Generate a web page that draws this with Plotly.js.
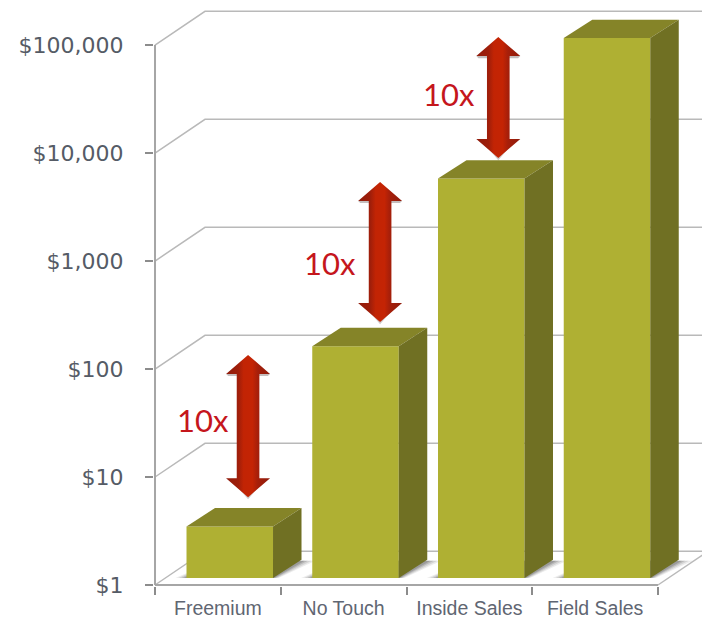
<!DOCTYPE html>
<html>
<head>
<meta charset="utf-8">
<script src="https://cdn.plot.ly/plotly-3.0.1.min.js"></script>
<style>html,body{margin:0;padding:0;background:#fff}</style>
</head>
<body>
<div id="chart" style="width:702px;height:621px"></div>
<script>
// Cost of customer acquisition by sales channel, on a log scale
const categories = ['Freemium', 'No Touch', 'Inside Sales', 'Field Sales'];
const dealValues = [3, 140, 5000, 100000];
const tickValues = [1, 10, 100, 1000, 10000, 100000];
const tickLabels = ['$1', '$10', '$100', '$1,000', '$10,000', '$100,000'];

// Double-headed "10x" markers: column position, tip values, and label position
const arrowX = [0.74, 1.79, 2.73];
const arrowTop = [135, 5400, 118500];
const arrowBottom = [6.5, 272, 9000];
const labelX = [0.382, 1.392, 2.338];
const labelValue = [34, 950, 35500];
const labelText = ['10x', '10x', '10x'];

// Perspective used for the faux-3D look (x in category units, y in decades)
const wallDx = 0.3976, wallDy = 0.3125;
const barDx = 0.2266, barDy = 0.17;
const barPlaneLift = 0.0648;
const barShift = 0.0945, barWidth = 0.688;
const headDy = 0.176, headHalf = 0.175, shaftHalf = 0.09;

// The plotting area runs past the front plane so the walls have room
const xRange = [-0.008, 4.35];
const yRange = [-0.0093, 5.417];
const rightEdge = 4.4;

const lift = d => Math.pow(10, d);
const base = lift(barPlaneLift);
const traces = [];

function poly(x, y, opts) {
  traces.push(Object.assign({
    type: 'scatter', mode: 'lines', x, y, hoverinfo: 'skip', showlegend: false,
    line: {width: 0}
  }, opts));
}
const wallLine = {color: '#b9b9b9', width: 1.5};
const axisLine = {color: '#a6a6a6', width: 2};
const front = {xaxis: 'x2', yaxis: 'y2'};

// Back wall grid with its diagonals to the value axis
tickValues.forEach(v => {
  poly([0, wallDx, rightEdge], [v, v * lift(wallDy), v * lift(wallDy)], {line: wallLine});
});
poly([4, 4 + wallDx], [1, lift(wallDy)], {line: wallLine});

// Front axis lines stop at the last tick
poly([0, 0], [1, 100000], {line: axisLine});
poly([0, 4], [1, 1], {line: axisLine});

// Soft floor shadows around each column's footprint
categories.forEach((c, i) => {
  const x0 = i + 0.5 + barShift - barWidth / 2, x1 = x0 + barWidth;
  [[0.11, 0.1], [0.08, 0.14], [0.05, 0.2], [0.025, 0.25]].forEach(([grow, alpha]) => {
    const back = base * lift(barDy - 0.01);
    poly([x0 - grow * 0.8, x1 + grow * 0.4, x1 + barDx + grow, x0 + barDx],
         [base, base, back, back],
         {fill: 'toself', fillcolor: 'rgba(70,70,70,' + alpha + ')'});
  });
});

// Front faces
traces.push(Object.assign({
  type: 'bar', orientation: 'v', name: 'Value',
  x: categories.map((c, i) => i + 0.5 + barShift),
  y: dealValues.map(v => (v - 1) * base),
  base: dealValues.map(() => base),
  width: barWidth, hoverinfo: 'skip', showlegend: false,
  marker: {color: '#afb033', line: {width: 0}}
}, front));

// Top and side faces
categories.forEach((c, i) => {
  const x0 = i + 0.5 + barShift - barWidth / 2, x1 = x0 + barWidth;
  const top = dealValues[i] * base, up = lift(barDy);
  poly([x0, x1, x1 + barDx, x0 + barDx, x0], [top, top, top * up, top * up, top],
       Object.assign({fill: 'toself', fillcolor: '#858428'}, front));
  poly([x1, x1 + barDx, x1 + barDx, x1, x1], [base, base * up, top * up, top, base],
       Object.assign({fill: 'toself', fillcolor: '#707023'}, front));
});

// Red arrows with a soft shadow under each head
arrowX.forEach((x, i) => {
  const t = arrowTop[i], b = arrowBottom[i], h = lift(headDy);
  poly([x - headHalf, x + headHalf, x + headHalf * 0.9, x - headHalf * 0.9],
       [t / h, t / h, t / h / lift(0.02), t / h / lift(0.02)],
       Object.assign({fill: 'toself', fillcolor: 'rgba(60,40,40,0.3)'}, front));
  poly([x - headHalf * 0.8, x + headHalf * 0.8, x, x - headHalf * 0.8],
       [b * h / lift(0.005), b * h / lift(0.005), b / lift(0.02), b * h / lift(0.005)],
       Object.assign({fill: 'toself', fillcolor: 'rgba(60,40,40,0.25)'}, front));
  poly([x, x + headHalf, x + shaftHalf, x + shaftHalf, x + headHalf, x,
        x - headHalf, x - shaftHalf, x - shaftHalf, x - headHalf, x],
       [t, t / h, t / h, b * h, b * h, b, b * h, b * h, t / h, t / h, t],
       Object.assign({fill: 'toself', fillgradient: {
         type: 'horizontal',
         colorscale: [[0, '#8f1c0c'], [0.28, '#a01e0a'], [0.4, '#c22404'], [0.6, '#c42404'], [0.72, '#a61f0a'], [1, '#8f1c0c']]
       }}, front));
});

const layout = {
  width: 702, height: 621,
  margin: {l: 154, r: 0, t: 0, b: 35, pad: 0},
  paper_bgcolor: '#ffffff', plot_bgcolor: 'rgba(0,0,0,0)',
  showlegend: false, barmode: 'overlay',
  xaxis: {
    type: 'linear', range: xRange, showgrid: false, zeroline: false, showline: false,
    tickmode: 'array', tickvals: categories.map((c, i) => i + 0.5), ticktext: categories,
    ticks: '', ticklabelstandoff: 8,
    tickfont: {family: 'Liberation Sans', size: 19.5, color: '#5f6672'},
    minor: {tick0: 0, dtick: 1, ticks: 'outside', ticklen: 8, tickwidth: 2, tickcolor: '#8c8c8c', showgrid: false}
  },
  yaxis: {
    type: 'log', range: yRange, showgrid: false, zeroline: false, showline: false,
    tickmode: 'array', tickvals: tickValues, ticktext: tickLabels,
    ticks: 'outside', ticklen: 8, tickwidth: 2, tickcolor: '#8c8c8c', ticklabelstandoff: 17,
    tickfont: {family: 'DejaVu Sans', size: 22, color: '#555b66'}
  },
  xaxis2: {overlaying: 'x', anchor: 'y2', type: 'linear', range: xRange, visible: false},
  yaxis2: {overlaying: 'y', anchor: 'x2', type: 'log', range: yRange, visible: false},
  annotations: labelText.map((t, i) => ({
    text: t, xref: 'x', yref: 'y', x: labelX[i], y: Math.log10(labelValue[i]),
    showarrow: false, font: {family: 'Lato', size: 31, color: '#c5161c'}
  }))
};

Plotly.newPlot('chart', traces, layout, {displayModeBar: false, responsive: false});
</script>
</body>
</html>
